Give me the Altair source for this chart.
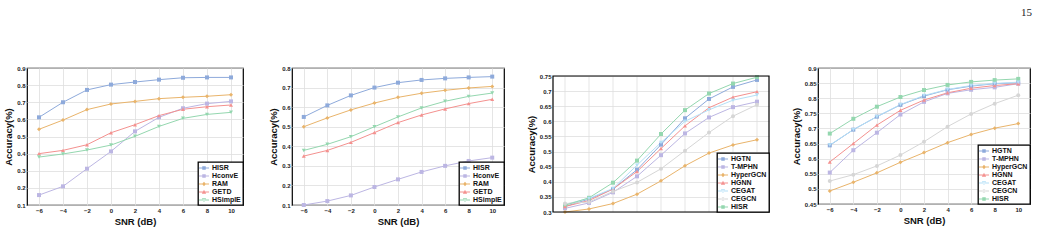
import altair as alt
import pandas as pd

# ---- data -------------------------------------------------------------
snr = [-6, -4, -2, 0, 2, 4, 6, 8, 10]

# panel (a)
a_names = ["HISR", "HconvE", "RAM", "GETD", "HSimplE"]
a_hisr = [0.612, 0.700, 0.772, 0.803, 0.818, 0.832, 0.843, 0.845, 0.845]
a_hconve = [0.158, 0.209, 0.312, 0.413, 0.530, 0.612, 0.665, 0.692, 0.705]
a_ram = [0.542, 0.596, 0.657, 0.690, 0.705, 0.721, 0.729, 0.735, 0.744]
a_getd = [0.400, 0.419, 0.452, 0.522, 0.569, 0.622, 0.659, 0.674, 0.684]
a_hsimple = [0.380, 0.398, 0.421, 0.450, 0.501, 0.559, 0.606, 0.629, 0.641]

# panel (b)
b_names = ["HISR", "HconvE", "RAM", "GETD", "HSimplE"]
b_hisr = [0.550, 0.609, 0.660, 0.700, 0.725, 0.739, 0.747, 0.752, 0.756]
b_hconve = [0.100, 0.120, 0.149, 0.192, 0.231, 0.269, 0.300, 0.325, 0.342]
b_ram = [0.500, 0.545, 0.586, 0.621, 0.650, 0.671, 0.686, 0.698, 0.706]
b_getd = [0.350, 0.379, 0.420, 0.470, 0.521, 0.560, 0.591, 0.618, 0.640]
b_hsimple = [0.379, 0.410, 0.449, 0.500, 0.550, 0.596, 0.630, 0.655, 0.672]

# panel (c)
c_names = ["HGTN", "T-MPHN", "HyperGCN", "HGNN", "CEGAT", "CEGCN", "HISR"]
c_hgtn = [0.318, 0.343, 0.376, 0.440, 0.523, 0.610, 0.674, 0.714, 0.737]
c_tmphn = [0.312, 0.330, 0.365, 0.418, 0.488, 0.560, 0.613, 0.647, 0.665]
c_hypergcn = [0.300, 0.310, 0.328, 0.359, 0.403, 0.453, 0.495, 0.522, 0.539]
c_hgnn = [0.318, 0.338, 0.376, 0.434, 0.510, 0.585, 0.645, 0.680, 0.698]
c_cegat = [0.325, 0.345, 0.378, 0.455, 0.530, 0.600, 0.638, 0.670, 0.687]
c_cegcn = [0.328, 0.333, 0.368, 0.398, 0.443, 0.503, 0.563, 0.617, 0.655]
c_hisr = [0.322, 0.347, 0.397, 0.470, 0.558, 0.637, 0.692, 0.725, 0.746]

# panel (d)
d_names = ["HGTN", "T-MPHN", "HyperGCN", "HGNN", "CEGAT", "CEGCN", "HISR"]
d_hgtn = [0.644, 0.696, 0.739, 0.778, 0.807, 0.828, 0.840, 0.848, 0.851]
d_tmphn = [0.554, 0.628, 0.686, 0.746, 0.788, 0.816, 0.828, 0.836, 0.848]
d_hypergcn = [0.493, 0.522, 0.553, 0.588, 0.620, 0.653, 0.680, 0.701, 0.716]
d_hgnn = [0.589, 0.650, 0.711, 0.760, 0.794, 0.818, 0.833, 0.842, 0.848]
d_cegat = [0.645, 0.696, 0.739, 0.779, 0.809, 0.829, 0.842, 0.849, 0.853]
d_cegcn = [0.526, 0.547, 0.576, 0.612, 0.656, 0.706, 0.748, 0.782, 0.810]
d_hisr = [0.683, 0.732, 0.772, 0.804, 0.827, 0.844, 0.854, 0.860, 0.864]

# ---- styling ----------------------------------------------------------
FONT = "Liberation Sans"
BLUE, LAV, ORANGE, RED = "#8eaadb", "#bcb6e3", "#e9b46b", "#f4918f"
GREEN, SKY, GREY = "#94d7af", "#b4e0f7", "#d6d6d6"

# legend keys: a short line with the marker on top of it
LINE = "M-1.3,-0.1H1.3V0.1H-1.3Z"
P_SQUARE = LINE + "M-0.45,-0.45H0.45V0.45H-0.45Z"
P_DIAMOND = LINE + "M0,-0.6L0.5,0L0,0.6L-0.5,0Z"
P_TRI_UP = LINE + "M0,-0.55L0.55,0.45H-0.55Z"
P_TRI_DOWN = LINE + "M0,0.55L0.55,-0.45H-0.55Z"
P_CIRCLE = LINE + "M-0.45,0A0.45,0.45 0 1,0 0.45,0A0.45,0.45 0 1,0 -0.45,0Z"

ab_colors = [BLUE, LAV, ORANGE, RED, GREEN]
ab_shapes = ["square", "square", "diamond", "triangle-up", "triangle-down"]
ab_paths = [P_SQUARE, P_SQUARE, P_DIAMOND, P_TRI_UP, P_TRI_DOWN]

cd_colors = [BLUE, LAV, ORANGE, RED, SKY, GREY, GREEN]
cd_shapes = ["square", "square", "diamond", "triangle-up", "triangle-down", "circle", "square"]
cd_paths = [P_SQUARE, P_SQUARE, P_DIAMOND, P_TRI_UP, P_TRI_DOWN, P_CIRCLE, P_SQUARE]


def frame(names, series):
    rows = []
    for name, vals in zip(names, series):
        for x, v in zip(snr, vals):
            rows.append({"snr": x, "acc": v, "series": name})
    return pd.DataFrame(rows)


def panel(df, names, colors, shapes, paths, ymin, ymax, yticks, w, h,
          top=0, extra=None):
    """One accuracy-vs-SNR panel; `top` leaves an empty band above the plot box."""
    x_scale = alt.Scale(domain=[-7, 11], nice=False, zero=False)
    x = alt.X("snr:Q", title="SNR (dB)", scale=x_scale,
              axis=alt.Axis(values=snr, format="d", grid=(top == 0)))
    y_axis = alt.Axis(values=yticks, format=".2~f")
    if top:
        y_axis = alt.Axis(values=yticks, format=".2~f", titleY=top + h / 2)
    y = alt.Y("acc:Q", title="Accuracy(%)",
              scale=alt.Scale(domain=[ymin, ymax], nice=False, zero=False,
                              range=[top + h, top]),
              axis=y_axis)
    # line/marker colours: domain taken from the data, ordered like the legend
    color = alt.Color("series:N", sort=names, scale=alt.Scale(range=colors), legend=None)
    base = alt.Chart(df)

    lines = base.mark_line(strokeWidth=1).encode(x=x, y=y, color=color, detail="series:N")

    # markers, one layer per marker type
    marker_layers = []
    for shp in dict.fromkeys(shapes):
        members = [n for n, s in zip(names, shapes) if s == shp]
        marker_layers.append(
            base.transform_filter(alt.FieldOneOfPredicate(field="series", oneOf=members))
            .mark_point(filled=True, size=16, opacity=1, shape=shp)
            .encode(x=x, y=y, color=color)
        )

    # legend source (no marks drawn, entries come from the explicit domain)
    legend = alt.Legend(title=None, orient="bottom-right", offset=0)
    keys = base.transform_filter("false").mark_point(filled=True, size=16).encode(
        x=x, y=y,
        fill=alt.Fill("series:N", scale=alt.Scale(domain=names, range=colors), legend=legend),
        shape=alt.Shape("series:N", scale=alt.Scale(domain=names, range=paths), legend=legend),
    )

    layers = []
    if top:
        # vertical grid and box drawn only over the shifted plot band
        grid = alt.Chart(pd.DataFrame({"snr": snr})).mark_rule(
            color="#dedede", strokeWidth=0.8
        ).encode(x=alt.X("snr:Q", scale=x_scale, axis=None),
                 y=alt.value(top), y2=alt.value(top + h))
        layers.append(grid)
    layers += [lines] + marker_layers + [keys]
    if top:
        box = alt.Chart(pd.DataFrame({"v": [0]})).mark_rect(
            fill=None, stroke="black", strokeWidth=1.2
        ).encode(x=alt.value(0), x2=alt.value(w), y=alt.value(top), y2=alt.value(top + h))
        layers.append(box)
    if extra is not None:
        layers.append(extra)
    out = alt.layer(*layers).properties(width=w, height=h + top)
    if top:
        out = out.properties(view=alt.ViewBackground(stroke=None))
    return out


pa = panel(frame(a_names, [a_hisr, a_hconve, a_ram, a_getd, a_hsimple]),
           a_names, ab_colors, ab_shapes, ab_paths,
           0.1, 0.9, [0.1, 0.2, 0.3, 0.4, 0.5, 0.6, 0.7, 0.8, 0.9], 216, 137)
pb = panel(frame(b_names, [b_hisr, b_hconve, b_ram, b_getd, b_hsimple]),
           b_names, ab_colors, ab_shapes, ab_paths,
           0.1, 0.8, [0.1, 0.2, 0.3, 0.4, 0.5, 0.6, 0.7, 0.8], 212, 137)
pc = panel(frame(c_names, [c_hgtn, c_tmphn, c_hypergcn, c_hgnn, c_cegat, c_cegcn, c_hisr]),
           c_names, cd_colors, cd_shapes, cd_paths,
           0.3, 0.75, [0.3, 0.35, 0.4, 0.45, 0.5, 0.55, 0.6, 0.65, 0.7, 0.75], 216, 136,
           top=8)

page_no = alt.Chart(pd.DataFrame({"t": ["15"]})).mark_text(
    align="right", baseline="top", font="Liberation Serif", fontSize=11, color="#222"
).encode(x=alt.value(214), y=alt.value(-61), text="t:N")

pd_ = panel(frame(d_names, [d_hgtn, d_tmphn, d_hypergcn, d_hgnn, d_cegat, d_cegcn, d_hisr]),
            d_names, cd_colors, cd_shapes, cd_paths,
            0.45, 0.9, [0.45, 0.5, 0.55, 0.6, 0.65, 0.7, 0.75, 0.8, 0.85, 0.9], 212, 136,
            extra=page_no)

chart = alt.hconcat(pa, pb, pc, pd_, spacing=49, bounds="flush").resolve_scale(
    color="independent", fill="independent", shape="independent"
).resolve_legend(
    fill="independent", shape="independent"
).properties(
    padding={"left": 3, "top": 6, "right": 0, "bottom": 0},
    background="white",
).configure_view(
    stroke="black", strokeWidth=1.2
).configure_axis(
    labelFont=FONT, labelFontSize=6, labelFontWeight="bold", labelColor="#222",
    labelPadding=2, ticks=False, domain=False,
    grid=True, gridColor="#dedede", gridWidth=0.8,
    titleFont=FONT, titleFontSize=9.5, titleFontWeight="bold", titleColor="#111",
    titlePadding=3,
).configure_legend(
    fillColor="white", strokeColor="black", strokeWidth=1.3, padding=2,
    labelFont=FONT, labelFontSize=7, labelFontWeight="bold", labelColor="#111",
    symbolSize=60, labelOffset=4, rowPadding=1, symbolStrokeWidth=0, symbolOpacity=1,
)

chart.save("out.html", embed_options={"renderer": "svg", "actions": False})
